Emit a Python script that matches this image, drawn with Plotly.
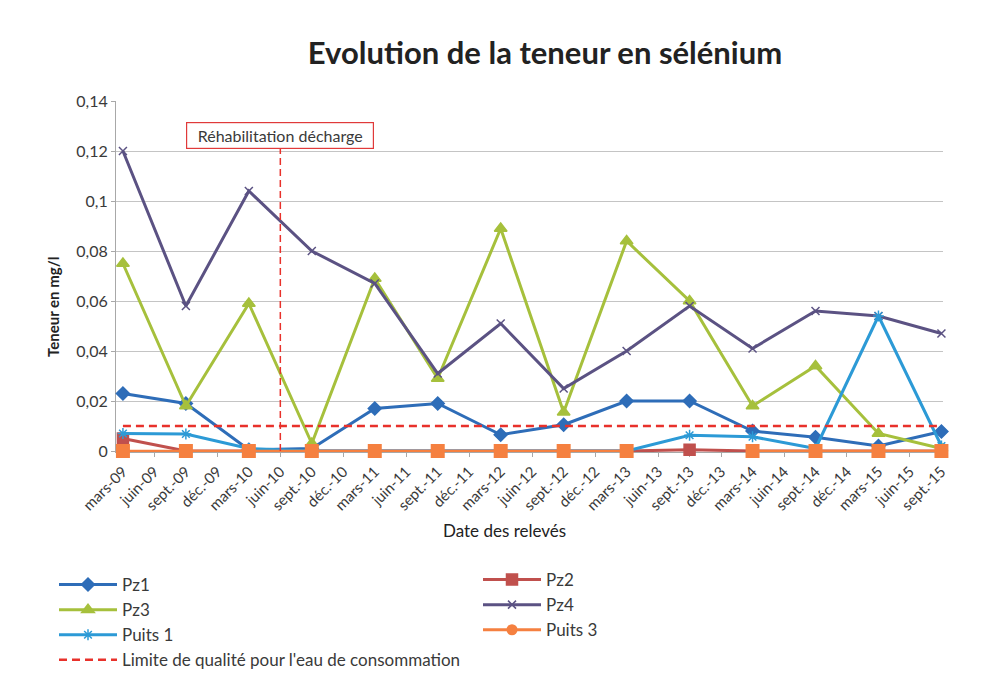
import plotly.graph_objects as go

categories = ["mars-09", "juin-09", "sept.-09", "déc.-09", "mars-10", "juin-10", "sept.-10",
              "déc.-10", "mars-11", "juin-11", "sept.-11", "déc.-11", "mars-12", "juin-12",
              "sept.-12", "déc.-12", "mars-13", "juin-13", "sept.-13", "déc.-13", "mars-14",
              "juin-14", "sept.-14", "déc.-14", "mars-15", "juin-15", "sept.-15"]

dates = ["mars-09", "sept.-09", "mars-10", "sept.-10", "mars-11", "sept.-11", "mars-12",
         "sept.-12", "mars-13", "sept.-13", "mars-14", "sept.-14", "mars-15", "sept.-15"]

pz1 = [0.023, 0.019, 0.0005, 0.001, 0.017, 0.019, 0.0065, 0.0105, 0.020, 0.020, 0.008, 0.0055, 0.002, 0.0078]
pz2 = [0.005, 0.0, 0.0, 0.0, 0.0, 0.0, 0.0, 0.0, 0.0, 0.0005, 0.0, 0.0, 0.0, 0.0]
pz3 = [0.075, 0.018, 0.059, 0.003, 0.069, 0.029, 0.089, 0.0155, 0.084, 0.060, 0.018, 0.034, 0.007, 0.001]
pz4 = [0.120, 0.058, 0.104, 0.080, 0.067, 0.031, 0.051, 0.025, 0.040, 0.058, 0.041, 0.056, 0.054, 0.047]
puits1 = [0.007, 0.0068, 0.001, 0.0, 0.0, 0.0, 0.0, 0.0, 0.0, 0.0063, 0.0057, 0.001, 0.054, 0.002]
puits3 = [0.0, 0.0, 0.0, 0.0, 0.0, 0.0, 0.0, 0.0, 0.0, None, 0.0, 0.0, 0.0, 0.0]
limite = [0.01] * len(dates)

rehab_date = "juin-10"
rehab_label = "Réhabilitation décharge"

FONT = "Lato"
TXT = "#3a3a3a"

# plot-area geometry (pixels)
L, R, T, B = 116, 53, 101, 221
W, H = 996, 673
PW, PH = W - L - R, H - T - B


def px_x(px):
    return (px - L) / PW


def px_y(py):
    return (H - B - py) / PH


fig = go.Figure()

series = [
    ("Pz1", pz1, "#2e6db8", "diamond", 10, "legend"),
    ("Pz2", pz2, "#c0504d", "square", 11, "legend2"),
    ("Pz3", pz3, "#a6c03c", "triangle-up", 11, "legend"),
    ("Pz4", pz4, "#5b5283", "x-thin", 8, "legend2"),
    ("Puits 1", puits1, "#2c9ad6", "asterisk", 9, "legend"),
]
for name, vals, col, sym, size, lg in series:
    fig.add_trace(go.Scatter(
        x=dates, y=vals, name=name, mode="lines+markers",
        line=dict(color=col, width=3),
        marker=dict(symbol=sym, size=size, color=col, line=dict(color=col, width=1.5)),
        legend=lg, legendgroup=name, connectgaps=False, cliponaxis=False,
    ))

# Puits 3 (plotted markers look square; legend shows circle)
fig.add_trace(go.Scatter(
    x=dates, y=puits3, name="Puits 3", mode="lines+markers",
    line=dict(color="#f58040", width=2.5),
    marker=dict(symbol="square", size=14, color="#f58040"),
    showlegend=False, legendgroup="Puits 3", connectgaps=False, cliponaxis=False,
))
fig.add_trace(go.Scatter(
    x=[None], y=[None], name="Puits 3", mode="lines+markers",
    line=dict(color="#f58040", width=3),
    marker=dict(symbol="circle", size=11, color="#f58040"),
    legend="legend2", legendgroup="Puits 3",
))

fig.add_trace(go.Scatter(
    x=dates, y=limite, name="Limite de qualité pour l'eau de consommation", mode="lines",
    line=dict(color="#e8312b", width=2.5, dash="8px,5px"),
    legend="legend", legendgroup="lim", cliponaxis=False,
))

# rehabilitation marker
fig.add_shape(type="line", xref="x", yref="y", x0=rehab_date, x1=rehab_date,
              y0=0, y1=0.1245, line=dict(color="#e8312b", width=1.5, dash="7px,4px"))
fig.add_annotation(x=rehab_date, xref="x", y=px_y(121.5), yref="paper",
                   text=rehab_label, showarrow=False, width=182, height=21,
                   font=dict(family=FONT, size=16, color=TXT),
                   bgcolor="white", bordercolor="#e03a3a", borderwidth=1.2, borderpad=2)

# axis titles as annotations
fig.add_annotation(x=px_x(42), y=px_y(307), xref="paper", yref="paper",
                   text="<b>Teneur en mg/l</b>", textangle=-90, showarrow=False,
                   font=dict(family=FONT, size=15, color="#222"))
fig.add_annotation(x=px_x(504), y=px_y(543), xref="paper", yref="paper",
                   text="Date des relevés", showarrow=False,
                   font=dict(family=FONT, size=17, color="#222"))

legend_common = dict(orientation="v", font=dict(family=FONT, size=17, color=TXT),
                     bgcolor="rgba(0,0,0,0)", itemwidth=58, tracegroupgap=0,
                     xanchor="left", yanchor="top", traceorder="grouped")

fig.update_layout(
    width=W, height=H,
    margin=dict(l=L, r=R, t=T, b=B, autoexpand=False),
    paper_bgcolor="white", plot_bgcolor="white",
    separators=", ",
    title=dict(text="Evolution de la teneur en sélénium", x=545 / W, xanchor="center",
               y=1 - 53 / H, yanchor="middle",
               font=dict(family=FONT, size=31, color="#222", weight="bold")),
    xaxis=dict(type="category", categoryorder="array", categoryarray=categories,
               tickvals=categories, ticktext=categories,
               range=[-0.22, 26.05], tickangle=-45, layer="below traces",
               tickfont=dict(family=FONT, size=15, color=TXT),
               showgrid=False, showline=True, linecolor="#a8a8a8", linewidth=1,
               ticks="outside", ticklen=4, tickcolor="#a8a8a8", zeroline=False),
    yaxis=dict(range=[-0.0004, 0.14], tickvals=[0, 0.02, 0.04, 0.06, 0.08, 0.1, 0.12, 0.14],
               tickformat="~r", layer="below traces",
               tickfont=dict(family=FONT, size=16, color=TXT),
               showgrid=True, gridcolor="#c4c4c4", gridwidth=1,
               showline=True, linecolor="#a8a8a8", linewidth=1,
               ticks="outside", ticklen=4, tickcolor="#a8a8a8", zeroline=False),
    legend=dict(x=px_x(54), y=px_y(567), **legend_common),
    legend2=dict(x=px_x(478), y=px_y(562), **legend_common),
    showlegend=True,
)

fig.write_html("out.html", config={"displayModeBar": False},
               post_script="document.body.style.margin='0';"
               "document.body.style.overflow='hidden';")
